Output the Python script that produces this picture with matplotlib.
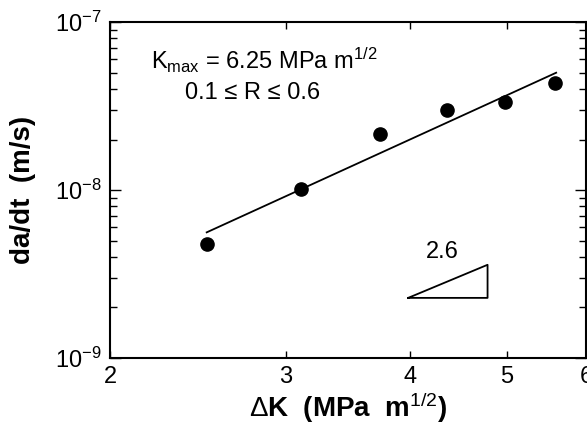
import matplotlib
matplotlib.use("Agg")
import matplotlib.pyplot as plt
from matplotlib.ticker import FixedLocator, NullLocator, LogLocator, NullFormatter, FixedFormatter

plt.rcParams['font.family'] = ['Liberation Sans', 'DejaVu Sans']
plt.rcParams['mathtext.fontset'] = 'custom'
plt.rcParams['mathtext.rm'] = 'Liberation Sans'
plt.rcParams['mathtext.it'] = 'Liberation Sans'
plt.rcParams['mathtext.bf'] = 'Liberation Sans:bold'

# measured points (delta K in MPa m^1/2, da/dt in m/s)
dK = [2.5, 3.11, 3.73, 4.35, 4.98, 5.59]
dadt = [4.8e-9, 1.02e-8, 2.15e-8, 2.99e-8, 3.33e-8, 4.35e-8]

# fitted power-law line, end points
fit_x = [2.5, 5.6]
fit_y = [5.6e-9, 5.0e-8]

# slope triangle
tri_x = [3.98, 4.78, 4.78, 3.98]
tri_y = [2.28e-9, 2.28e-9, 3.59e-9, 2.28e-9]
slope_label = "2.6"

xticks = [2, 3, 4, 5, 6]
yticks = [1e-9, 1e-8, 1e-7]
ytick_labels = [r'10$^{-9}$', r'10$^{-8}$', r'10$^{-7}$']

fig = plt.figure(figsize=(5.87, 4.24), dpi=100)
ax = fig.add_axes([0.1874, 0.1557, 0.811, 0.792])
ax.set_xscale('log')
ax.set_yscale('log')
ax.set_xlim(2, 6)
ax.set_ylim(1e-9, 1e-7)

ax.plot(fit_x, fit_y, color='black', lw=1.3)
ax.plot(dK, dadt, 'o', color='black', ms=9.5)
ax.plot(tri_x, tri_y, color='black', lw=1.3)
ax.text(4.31, 3.7e-9, slope_label, fontsize=17, ha='center', va='bottom')

ax.text(2.2, 5.9e-8, r'K$_{\rm max}$ = 6.25 MPa m$^{1/2}$', fontsize=17, va='center')
ax.text(2.38, 3.8e-8, '0.1 \u2264 R \u2264 0.6', fontsize=17, va='center')

ax.xaxis.set_major_locator(FixedLocator(xticks))
ax.xaxis.set_major_formatter(FixedFormatter([str(v) for v in xticks]))
ax.xaxis.set_minor_locator(NullLocator())
ax.xaxis.set_minor_formatter(NullFormatter())
ax.yaxis.set_major_locator(FixedLocator(yticks))
ax.yaxis.set_major_formatter(FixedFormatter(ytick_labels))
ax.yaxis.set_minor_locator(LogLocator(base=10, subs=range(2, 10)))
ax.yaxis.set_minor_formatter(NullFormatter())

ax.tick_params(which='both', direction='in', top=True, right=True, labelsize=17, width=1.0)
ax.tick_params(axis='x', which='major', length=5, pad=6)
ax.tick_params(axis='y', which='major', length=8, pad=6)
ax.tick_params(axis='y', which='minor', length=5)
for s in ax.spines.values():
    s.set_linewidth(1.5)

ax.set_xlabel(r'$\Delta$K  (MPa  m$^{1/2}$)', fontsize=20, fontweight='bold')
ax.set_ylabel('da/dt  (m/s)', fontsize=20, fontweight='bold')
ax.xaxis.set_label_coords(0.5, -0.097)
ax.yaxis.set_label_coords(-0.155, 0.5)

fig.savefig('out.png', dpi=100)
